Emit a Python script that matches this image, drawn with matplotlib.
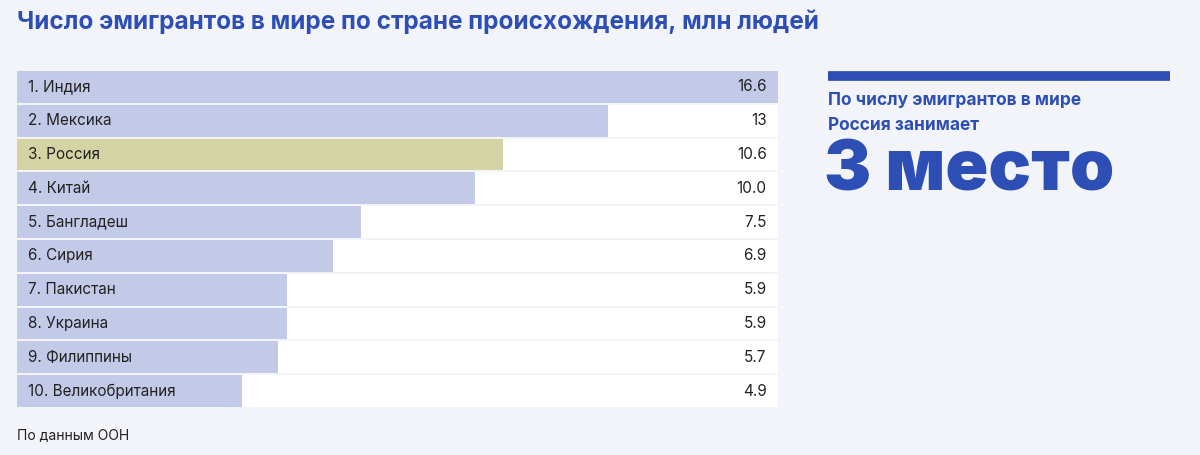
import matplotlib
matplotlib.use("Agg")
import matplotlib.pyplot as plt

countries = ["1. Индия", "2. Мексика", "3. Россия", "4. Китай", "5. Бангладеш",
             "6. Сирия", "7. Пакистан", "8. Украина", "9. Филиппины", "10. Великобритания"]
values = [16.6, 12.9, 10.6, 10.0, 7.5, 6.9, 5.9, 5.9, 5.7, 4.9]
value_labels = ["16.6", "13", "10.6", "10.0", "7.5", "6.9", "5.9", "5.9", "5.7", "4.9"]
highlight = "3. Россия"

BG = "#f3f4f9"
BLUE = "#2d4fb5"
plt.rcParams['font.family'] = ['Inter', 'DejaVu Sans']

W, H = 1200, 455
fig = plt.figure(figsize=(12, 4.55), dpi=100, facecolor=BG)
ax = fig.add_axes([17/W, (H-408)/H, 761/W, 338/H])
ax.set_facecolor(BG)
n = len(values)
xmax = 16.6
ys = list(range(n))
ax.barh(ys, [xmax]*n, height=0.94, color="white", zorder=1)
colors = ["#d3d3a4" if c == highlight else "#c3cae8" for c in countries]
ax.barh(ys, values, height=0.94, color=colors, zorder=2)
for y, c, lab in zip(ys, countries, value_labels):
    ax.text(0.25, y, c, va="center", ha="left", fontsize=11, color="#222222", zorder=3)
    ax.text(xmax-0.25, y, lab, va="center", ha="right", fontsize=11, color="#222222", zorder=3)
ax.set_xlim(0, xmax)
ax.set_ylim(n-0.5, -0.5)
ax.axis("off")

fig.text(17/W, 1-22/H, "Число эмигрантов в мире по стране происхождения, млн людей",
         fontsize=17.5, fontweight="bold", color=BLUE, va="center", ha="left")
fig.text(17/W, 1-435/H, "По данным ООН", fontsize=10, color="#222222", va="center")

fig.add_artist(plt.Line2D([828/W, 1170/W], [1-76/H, 1-76/H], color=BLUE,
                          linewidth=7, solid_capstyle="butt"))
fig.text(828/W, 1-101/H, "По числу эмигрантов в мире", fontsize=12.5, fontweight="bold",
         color=BLUE, va="center")
fig.text(828/W, 1-125/H, "Россия занимает", fontsize=12.5, fontweight="bold",
         color=BLUE, va="center")
fig.text(824/W, 1-172/H, "3 место", fontsize=51, fontweight="black",
         color=BLUE, va="center")

fig.savefig("out.png", dpi=100, facecolor=BG)
